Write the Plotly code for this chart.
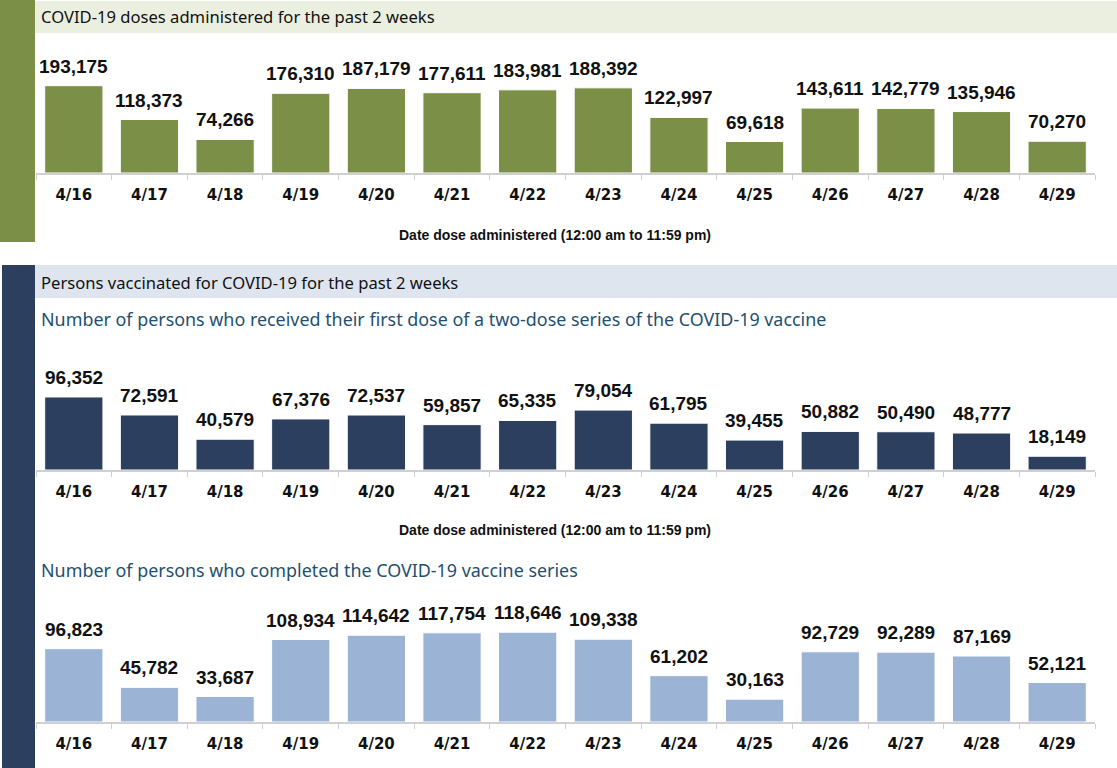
import plotly.graph_objects as go

dates = ["4/16", "4/17", "4/18", "4/19", "4/20", "4/21", "4/22", "4/23",
         "4/24", "4/25", "4/26", "4/27", "4/28", "4/29"]
doses = [193175, 118373, 74266, 176310, 187179, 177611, 183981, 188392,
         122997, 69618, 143611, 142779, 135946, 70270]
first_dose = [96352, 72591, 40579, 67376, 72537, 59857, 65335, 79054,
              61795, 39455, 50882, 50490, 48777, 18149]
completed = [96823, 45782, 33687, 108934, 114642, 117754, 118646, 109338,
             61202, 30163, 92729, 92289, 87169, 52121]

W, H = 1117, 768
GREEN = "#7B8F47"
NAVY = "#2C3F5E"
LIGHTBLUE = "#9BB3D5"
TEAL = "#1F5070"
NUMFONT = "Liberation Sans, Arial, sans-serif"
TICKFONT = "DejaVu Sans, sans-serif"
TXTFONT = "Noto Sans, Open Sans, sans-serif"


def py(p):
    return 1 - p / H


def px(p):
    return p / W


fig = go.Figure()

panels = [
    (doses, GREEN, "x", "y", 173, 220000),
    (first_dose, NAVY, "x2", "y2", 470, 110000),
    (completed, LIGHTBLUE, "x3", "y3", 722, 130000),
]
scales = [0.000452, 0.000758, 0.000757]

annotations = []
for i, (vals, col, xa, ya, base, rng) in enumerate(panels):
    fig.add_trace(go.Bar(
        x=dates, y=vals, xaxis=xa, yaxis=ya,
        marker=dict(color=col, line=dict(color="white", width=1)),
        showlegend=False, hoverinfo="x+y",
    ))
    for d, v in zip(dates, vals):
        annotations.append(dict(
            x=d, y=v, xref=xa, yref=ya, text=f"{v:,}", showarrow=False,
            xanchor="center", yanchor="bottom", yshift=7,
            font=dict(family=NUMFONT, size=19, color="#111111", weight="bold"),
        ))
    top = base - rng * scales[i]
    n = "" if i == 0 else str(i + 1)
    fig.layout["xaxis" + n] = dict(
        domain=[px(36), px(1095)], anchor=ya, type="category",
        tickson="boundaries", ticks="outside", ticklen=5, tickcolor="#D0D0D0",
        showline=True, linecolor="#D0D0D0", linewidth=1.5,
        showgrid=False, zeroline=False, ticklabelstandoff=7,
        tickfont=dict(family=TICKFONT, size=15, color="#111111", weight="bold"),
        fixedrange=True,
    )
    fig.layout["yaxis" + n] = dict(
        domain=[py(base), py(top)], anchor=xa, range=[0, rng],
        visible=False, showgrid=False, zeroline=False, fixedrange=True,
    )

shapes = [
    dict(type="rect", xref="paper", yref="paper", x0=0, x1=px(35), y0=py(242), y1=py(0),
         fillcolor=GREEN, line_width=0, layer="below"),
    dict(type="rect", xref="paper", yref="paper", x0=px(35), x1=1, y0=py(33), y1=py(1),
         fillcolor="#EBEFE0", line_width=0, layer="below"),
    dict(type="rect", xref="paper", yref="paper", x0=px(2), x1=px(35), y0=0, y1=py(265),
         fillcolor=NAVY, line_width=0, layer="below"),
    dict(type="rect", xref="paper", yref="paper", x0=px(35), x1=1, y0=py(298), y1=py(265),
         fillcolor="#DEE5EF", line_width=0, layer="below"),
]

texts = [
    dict(text="COVID-19 doses administered for the past 2 weeks", x=px(39), y=py(17),
         font=dict(family=TXTFONT, size=16.6, color="#111111")),
    dict(text="Persons vaccinated for COVID-19 for the past 2 weeks", x=px(39), y=py(282),
         font=dict(family=TXTFONT, size=16.6, color="#111111")),
    dict(text="Number of persons who received their first dose of a two-dose series of the COVID-19 vaccine",
         x=px(39), y=py(319), font=dict(family=TXTFONT, size=17.9, color=TEAL)),
    dict(text="Number of persons who completed the COVID-19 vaccine series",
         x=px(39), y=py(570), font=dict(family=TXTFONT, size=17.9, color=TEAL)),
]
for a in texts:
    a.update(xref="paper", yref="paper", xanchor="left", yanchor="middle", showarrow=False)
annotations += texts

for yy in (235, 530):
    annotations.append(dict(
        text="<b>Date dose administered (12:00 am to 11:59 pm)</b>",
        x=px(555), y=py(yy), xref="paper", yref="paper", xanchor="center",
        yanchor="middle", showarrow=False,
        font=dict(family="Liberation Sans, Arial, sans-serif", size=14, color="#111111"),
    ))

fig.update_layout(
    width=W, height=H, margin=dict(l=0, r=0, t=0, b=0),
    paper_bgcolor="white", plot_bgcolor="white",
    bargap=0.23, shapes=shapes, annotations=annotations,
)

fig.write_html("out.html")
